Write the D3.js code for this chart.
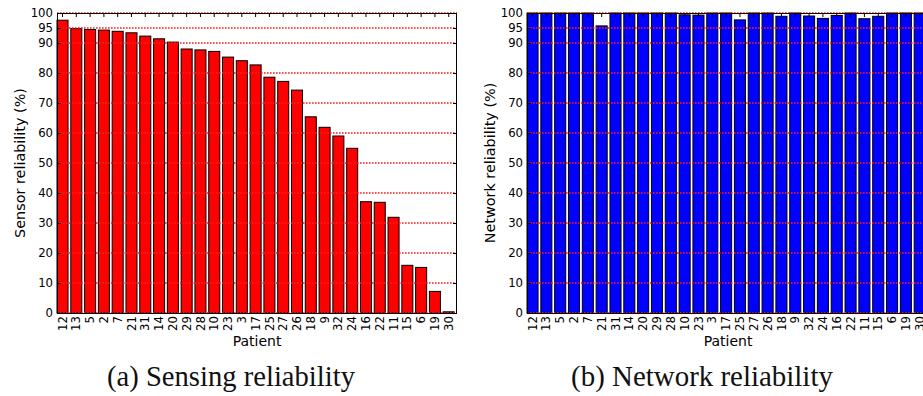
<!DOCTYPE html>
<html>
<head>
<meta charset="utf-8">
<script src="https://cdn.jsdelivr.net/npm/d3@7"></script>
<style>
  html, body { margin: 0; padding: 0; background: #fff; }
  svg { display: block; }
</style>
</head>
<body>
<svg id="chart" width="923" height="396"></svg>
<script>
// Patients, ordered by decreasing sensor reliability
const patients = ["12","13","5","2","7","21","31","14","20","29","28","10","23","3","17",
                  "25","27","26","18","9","32","24","16","22","11","15","6","19","30"];

// Sensor reliability per patient (%)
const sensing = [97.6, 94.8, 94.5, 94.3, 93.9, 93.4, 92.3, 91.4, 90.3, 88.0, 87.7, 87.2, 85.3, 84.1, 82.7,
                 78.6, 77.2, 74.3, 65.4, 61.9, 59.0, 54.9, 37.1, 36.9, 31.9, 15.9, 15.2, 7.2, 0.4];

// Network reliability per patient (%)
const network = [100, 100, 100, 100, 100, 95.7, 100, 100, 100, 100, 100, 99.4, 99.3, 100, 100,
                 97.7, 100, 100, 98.9, 100, 99.0, 98.2, 99.2, 100, 98.1, 98.9, 100, 100, 100];

// Y axis tick values shared by both panels
const yTicks = [0, 10, 20, 30, 40, 50, 60, 70, 80, 90, 95, 100];

const svg = d3.select("#chart");
const FONT = "'DejaVu Sans', sans-serif";

function drawPanel(cfg) {
  const { left, right, top, bottom, values, fill, ylabel, caption, captionX, captionWidth } = cfg;

  const x = d3.scaleBand()
    .domain(patients)
    .range([left, right])
    .paddingInner(0.2)
    .paddingOuter(0.1)
    .align(0);

  const y = d3.scaleLinear().domain([0, 100]).range([bottom, top]);

  const g = svg.append("g");

  // bars
  g.append("g").selectAll("rect")
    .data(patients)
    .join("rect")
    .attr("x", (d) => x(d))
    .attr("y", (d, i) => y(values[i]))
    .attr("width", x.bandwidth())
    .attr("height", (d, i) => y(0) - y(values[i]))
    .attr("fill", fill)
    .attr("stroke", "#000")
    .attr("stroke-width", 1);

  // dotted horizontal grid drawn over the bars
  g.append("g").attr("class", "grid").selectAll("line")
    .data(yTicks)
    .join("line")
    .attr("x1", left).attr("x2", right)
    .attr("y1", (d) => y(d))
    .attr("y2", (d) => y(d))
    .attr("stroke", "#ff1a1a")
    .attr("stroke-width", 1.3)
    .attr("stroke-dasharray", "1.6,1.4");

  // left y axis: ticks inward, labels outside
  const yAxisL = d3.axisLeft(y).tickValues(yTicks).tickSizeInner(-4).tickSizeOuter(0).tickPadding(4);
  const ga = g.append("g").attr("transform", `translate(${left},0)`).call(yAxisL);
  ga.select(".domain").remove();
  ga.selectAll("text").attr("font-family", FONT).attr("font-size", 11.7).attr("fill", "#000");
  ga.selectAll("line").attr("stroke", "#000");

  // right y axis: inward ticks only
  const yAxisR = d3.axisRight(y).tickValues(yTicks).tickSizeInner(-4).tickSizeOuter(0).tickFormat("");
  const gr = g.append("g").attr("transform", `translate(${right},0)`).call(yAxisR);
  gr.select(".domain").remove();
  gr.selectAll("line").attr("stroke", "#000");

  // top x axis: inward ticks
  const xTop = d3.axisTop(x).tickSizeInner(-4).tickSizeOuter(0).tickFormat("");
  const gt = g.append("g").attr("transform", `translate(0,${top})`).call(xTop);
  gt.select(".domain").remove();
  gt.selectAll("line").attr("stroke", "#000");

  // bottom x axis: rotated patient labels
  const xBot = d3.axisBottom(x).tickSizeInner(0).tickSizeOuter(0).tickPadding(0);
  const gb = g.append("g").attr("transform", `translate(0,${bottom})`).call(xBot);
  gb.select(".domain").remove();
  gb.selectAll("text")
    .attr("font-family", FONT).attr("font-size", 11.7).attr("fill", "#000")
    .attr("transform", "rotate(-90)")
    .attr("x", -3).attr("y", 0).attr("dy", "0.35em")
    .attr("text-anchor", "end");

  // frame
  g.append("rect")
    .attr("x", left + 0.5).attr("y", top + 0.5)
    .attr("width", right - left - 1).attr("height", bottom - top)
    .attr("fill", "none").attr("stroke", "#000").attr("stroke-width", 1);

  // axis titles
  g.append("text")
    .attr("transform", `translate(${cfg.ylabelX},${(top + bottom) / 2}) rotate(-90)`)
    .attr("text-anchor", "middle")
    .attr("font-family", FONT).attr("font-size", 14.4)
    .text(ylabel);

  g.append("text")
    .attr("x", cfg.xlabelX)
    .attr("y", 346)
    .attr("text-anchor", "middle")
    .attr("font-family", FONT).attr("font-size", 14)
    .text("Patient");

  // caption in serif, sized to its measured width
  const cap = svg.append("text")
    .attr("x", captionX).attr("y", 386)
    .attr("text-anchor", "middle")
    .attr("font-family", "'Liberation Serif', 'DejaVu Serif', serif")
    .attr("font-size", 22)
    .attr("fill", "#111")
    .text(caption);
  const w = cap.node().getComputedTextLength();
  cap.attr("font-size", 22 * captionWidth / w);
}

drawPanel({
  left: 57, right: 457, top: 13, bottom: 313,
  values: sensing, fill: "#ff0000",
  ylabel: "Sensor reliability (%)", ylabelX: 25,
  xlabelX: 257,
  caption: "(a) Sensing reliability", captionX: 231, captionWidth: 248
});

drawPanel({
  left: 527, right: 928, top: 13, bottom: 313,
  values: network, fill: "#0000ff",
  ylabel: "Network reliability (%)", ylabelX: 495,
  xlabelX: 728,
  caption: "(b) Network reliability", captionX: 702, captionWidth: 262
});
</script>
</body>
</html>
